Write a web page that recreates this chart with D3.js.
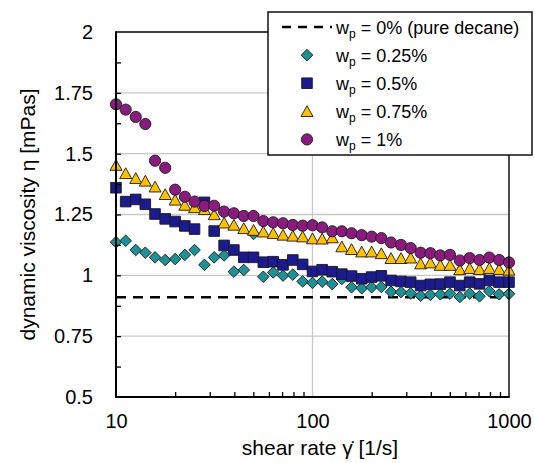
<!DOCTYPE html>
<html>
<head>
<meta charset="utf-8">
<script src="https://cdn.jsdelivr.net/npm/d3@7"></script>
<style>
  body { margin: 0; background: #fff; }
  svg { display: block; font-family: "Liberation Sans", Arial, sans-serif; }
</style>
</head>
<body>
<svg id="chart" width="535" height="463"></svg>
<script>
// Shear rates of the measurement points [1/s]
const shearRate = [10, 11.2, 12.6, 14.1, 15.8, 17.8, 20, 22.4, 25.1, 28.2,
  31.6, 35.5, 39.8, 44.7, 50.1, 56.2, 63.1, 70.8, 79.4, 89.1,
  100, 112, 126, 141, 158, 178, 200, 224, 251, 282,
  316, 355, 398, 447, 501, 562, 631, 708, 794, 891, 1000];

// Dynamic viscosity [mPas] for each polymer mass fraction
const eta025 = [1.136, 1.142, 1.104, 1.093, 1.074, 1.063, 1.067, 1.084, 1.104, 1.043,
  1.074, 1.082, 1.015, 1.022, 1.170, 0.994, 1.012, 0.999, 1.003, 0.975,
  0.969, 0.974, 0.964, 0.985, 0.951, 0.947, 0.951, 0.952, 0.932, 0.931,
  0.926, 0.916, 0.920, 0.922, 0.925, 0.911, 0.925, 0.914, 0.935, 0.922, 0.924];
const eta05 = [1.360, 1.303, 1.312, 1.292, 1.252, 1.232, 1.221, 1.203, 1.190, 1.300,
  1.182, 1.123, 1.104, 1.074, 1.074, 1.054, 1.056, 1.043, 1.063, 1.045,
  1.016, 1.023, 1.015, 1.005, 0.997, 0.986, 0.993, 0.998, 0.979, 0.975,
  0.972, 0.958, 0.963, 0.964, 0.972, 0.958, 0.972, 0.965, 0.979, 0.972, 0.972];
const eta075 = [1.453, 1.419, 1.399, 1.388, 1.364, 1.333, 1.310, 1.289, 1.279, 1.271,
  1.250, 1.216, 1.207, 1.193, 1.186, 1.179, 1.173, 1.166, 1.162, 1.159,
  1.151, 1.150, 1.155, 1.118, 1.107, 1.097, 1.097, 1.090, 1.070, 1.070,
  1.072, 1.048, 1.052, 1.042, 1.042, 1.024, 1.029, 1.025, 1.029, 1.025, 1.022];
const eta1 = [1.703, 1.681, 1.651, 1.622, 1.471, 1.442, 1.352, 1.323, 1.303, 1.285,
  1.286, 1.262, 1.255, 1.244, 1.244, 1.223, 1.218, 1.214, 1.207, 1.204,
  1.206, 1.197, 1.181, 1.181, 1.173, 1.165, 1.159, 1.153, 1.135, 1.125,
  1.112, 1.093, 1.091, 1.082, 1.084, 1.061, 1.071, 1.063, 1.073, 1.063, 1.053];

// Pure decane reference viscosity [mPas]
const etaDecane = 0.91;

const xTickValues = [10, 100, 1000];
const xMinorTicks = [20, 30, 40, 50, 60, 70, 80, 90, 200, 300, 400, 500, 600, 700, 800, 900];
const yTickValues = [0.5, 0.75, 1, 1.25, 1.5, 1.75, 2];
const yMinorTicks = [0.625, 0.75, 0.875, 1, 1.125, 1.25, 1.375, 1.5, 1.625, 1.75, 1.875];
const yGrid = [0.75, 1, 1.25, 1.5, 1.75];
const legendLabels = ["0% (pure decane)", "0.25%", "0.5%", "0.75%", "1%"];

const colors = { teal: "#1d9196", navy: "#1b1a8f", gold: "#ffc000", purple: "#8a1a7d" };

const svg = d3.select("#chart");
const plotLeft = 116, plotRight = 509, plotTop = 32, plotBottom = 397;

const x = d3.scaleLog().domain([10, 1000]).range([plotLeft, plotRight]);
const y = d3.scaleLinear().domain([0.5, 2]).range([plotBottom, plotTop]);

// Grid lines
svg.append("g").selectAll("line").data(yGrid).join("line")
  .attr("x1", plotLeft).attr("x2", plotRight)
  .attr("y1", d => y(d)).attr("y2", d => y(d))
  .attr("stroke", "#c8c8c8").attr("stroke-width", 1.3);
svg.append("line")
  .attr("x1", x(100)).attr("x2", x(100)).attr("y1", plotTop).attr("y2", plotBottom)
  .attr("stroke", "#c8c8c8").attr("stroke-width", 1.3);

// Pure decane reference line
svg.append("line")
  .attr("x1", x(10)).attr("x2", x(1000))
  .attr("y1", y(etaDecane)).attr("y2", y(etaDecane))
  .attr("stroke", "#000").attr("stroke-width", 2.6)
  .attr("stroke-dasharray", "10,7");

// Marker shapes
const shapes = {
  diamond: "M0,-5.8L5.8,0L0,5.8L-5.8,0Z",
  square: "M-5.3,-5.3H5.3V5.3H-5.3Z",
  triangle: "M0,-5.6L6,5.2H-6Z",
  circle: "M5.6,0A5.6,5.6 0 1 1 -5.6,0A5.6,5.6 0 1 1 5.6,0Z"
};

const series = [
  { values: eta025, shape: "diamond", color: colors.teal },
  { values: eta05, shape: "square", color: colors.navy },
  { values: eta075, shape: "triangle", color: colors.gold },
  { values: eta1, shape: "circle", color: colors.purple }
];

series.forEach(s => {
  svg.append("g").selectAll("path")
    .data(shearRate.map((r, i) => ({ r, v: s.values[i] })))
    .join("path")
    .attr("d", shapes[s.shape])
    .attr("transform", d => `translate(${x(d.r)},${y(d.v)})`)
    .attr("fill", s.color)
    .attr("stroke", "#1a1a1a").attr("stroke-width", 0.9);
});

// Plot frame
svg.append("line").attr("x1", plotLeft).attr("x2", plotRight).attr("y1", plotTop).attr("y2", plotTop)
  .attr("stroke", "#000").attr("stroke-width", 1.4);
svg.append("line").attr("x1", plotRight).attr("x2", plotRight).attr("y1", plotTop).attr("y2", plotBottom)
  .attr("stroke", "#000").attr("stroke-width", 1.4);

// Inner minor ticks
svg.append("g").attr("transform", `translate(0,${plotBottom})`)
  .call(d3.axisBottom(x).tickValues(xMinorTicks).tickSize(-5).tickFormat(""))
  .call(g => g.select(".domain").remove())
  .call(g => g.selectAll("line").attr("stroke", "#000").attr("stroke-width", 1.3));
svg.append("g").attr("transform", `translate(${plotLeft},0)`)
  .call(d3.axisLeft(y).tickValues(yMinorTicks).tickSize(-5).tickFormat(""))
  .call(g => g.select(".domain").remove())
  .call(g => g.selectAll("line").attr("stroke", "#000").attr("stroke-width", 1.3));

// Tick labels
svg.append("g").attr("transform", `translate(0,${plotBottom})`)
  .call(d3.axisBottom(x).tickValues(xTickValues).tickSize(0).tickPadding(17)
    .tickFormat(d3.format("d")))
  .call(g => g.select(".domain").remove())
  .call(g => g.selectAll("text").attr("font-size", 20).attr("fill", "#000")
    .attr("font-family", "Liberation Sans, Arial, sans-serif"));
svg.append("g").attr("transform", `translate(${plotLeft},0)`)
  .call(d3.axisLeft(y).tickValues(yTickValues).tickSize(0).tickPadding(23)
    .tickFormat(d => String(d)))
  .call(g => g.select(".domain").remove())
  .call(g => g.selectAll("text").attr("font-size", 20).attr("fill", "#000")
    .attr("font-family", "Liberation Sans, Arial, sans-serif"));

// Axis lines
svg.append("line").attr("x1", plotLeft).attr("x2", plotLeft).attr("y1", plotTop - 0.7).attr("y2", plotBottom + 1)
  .attr("stroke", "#000").attr("stroke-width", 2);
svg.append("line").attr("x1", plotLeft - 1).attr("x2", plotRight + 0.7).attr("y1", plotBottom).attr("y2", plotBottom)
  .attr("stroke", "#000").attr("stroke-width", 2);

// Axis titles
svg.append("text")
  .attr("x", 320).attr("y", 455)
  .attr("text-anchor", "middle").attr("font-size", 21)
  .text("shear rate \u03B3\u0307 [1/s]");
svg.append("text")
  .attr("transform", "translate(35,214.5) rotate(-90)")
  .attr("text-anchor", "middle").attr("font-size", 21)
  .text("dynamic viscosity \u03B7 [mPas]");

// Legend
const lg = svg.append("g");
lg.append("rect")
  .attr("x", 268).attr("y", 12).attr("width", 264).attr("height", 143)
  .attr("fill", "#fff").attr("stroke", "#000").attr("stroke-width", 1.4);

const legendShapes = [null, "diamond", "square", "triangle", "circle"];
const legendColors = [null, colors.teal, colors.navy, colors.gold, colors.purple];

legendLabels.forEach((label, i) => {
  const cy = 27 + i * 28.1;
  if (i === 0) {
    lg.append("line").attr("x1", 282).attr("x2", 332).attr("y1", cy).attr("y2", cy)
      .attr("stroke", "#000").attr("stroke-width", 2.6).attr("stroke-dasharray", "9,7");
  } else {
    lg.append("path").attr("d", shapes[legendShapes[i]])
      .attr("transform", `translate(307,${cy})`)
      .attr("fill", legendColors[i]).attr("stroke", "#1a1a1a").attr("stroke-width", 0.9);
  }
  const t = lg.append("text").attr("x", 336).attr("y", cy + 6.5).attr("font-size", 18);
  t.append("tspan").text("w");
  t.append("tspan").attr("font-size", 12).attr("dy", 4).text("p");
  t.append("tspan").attr("dy", -4).text(" = " + label);
});
</script>
</body>
</html>
